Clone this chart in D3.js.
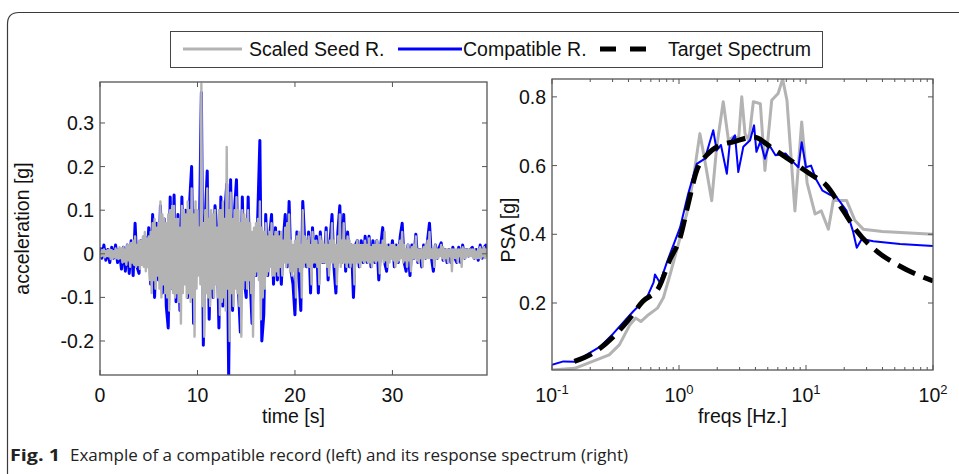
<!DOCTYPE html>
<html>
<head>
<meta charset="utf-8">
<script src="https://cdn.jsdelivr.net/npm/d3@7"></script>
<style>
  html, body { margin: 0; padding: 0; background: #fff; }
  svg { display: block; font-family: "Liberation Sans", Arial, sans-serif; }
</style>
</head>
<body>
<svg id="fig" width="959" height="474"></svg>
<script>
// ---- Acceleration records ----
// compatible record: one sample every 0.2 s from t = 0
const compatibleStep = 0.2;
const compatibleAccel = [
  0.015,-0.01,0.02,-0.015,0.01,  -0.02,0.015,-0.01,0.02,-0.02,
  0.01,-0.035,0.015,-0.04,0.02,  -0.045,0.03,-0.05,0.07,-0.03,
  -0.045,0.03,-0.02,0.04,-0.03,  0.06,-0.07,0.09,-0.1,0.07,
  -0.06,0.11,-0.09,0.08,-0.12,   -0.17,0.13,-0.08,0.135,-0.11,
  0.09,-0.13,0.13,-0.06,0.1,     -0.1,0.12,0.2,-0.16,0.1,
  -0.03,0.05,0.37,-0.21,0.08,    0.19,-0.15,0.06,-0.1,0.11,
  0.05,-0.17,0.13,-0.12,0.09,    0.16,-0.28,0.17,-0.13,0.1,
  0.17,-0.08,-0.18,0.13,-0.06,   -0.1,0.13,-0.06,-0.16,0.05,
  -0.05,0.1,0.26,-0.2,-0.14,     0.09,-0.05,0.04,0.09,-0.07,
  0.06,-0.06,0.05,-0.07,0.03,    0.09,-0.03,0.12,-0.04,-0.07,
  -0.14,0.05,-0.05,-0.13,0.12,   0.03,-0.03,0.05,-0.09,0.06,
  -0.03,0.04,-0.09,0.05,-0.02,   -0.02,0.06,-0.06,0.03,0.09,
  -0.03,-0.09,0.05,0.11,-0.02,   0.09,-0.04,0.05,-0.03,0.02,
  -0.1,0.02,0.03,-0.03,0.03,     -0.02,0.04,-0.02,0.04,-0.03,
  0.03,-0.02,0.03,-0.06,0.02,    0.06,-0.02,-0.04,0.02,-0.01,
  0.03,-0.03,0.02,-0.02,0.04,    0.07,-0.02,-0.04,0.02,-0.05,
  0.02,-0.01,0.045,-0.02,0.01,   -0.03,0.02,-0.01,0.03,0.07,
  -0.01,-0.04,0.02,-0.01,0.015,  0.025,-0.015,0.01,-0.02,0.01,
  -0.02,0.015,-0.01,-0.02,0.015, -0.02,0.02,-0.01,0.01,-0.005,
  0.01,0.015,-0.01,0.01,-0.015,  0.02,-0.01,0.015,0.02,-0.005
];
// scaled seed record: one sample every 0.1 s from t = 0 (one row per second)
const seedStep = 0.1;
const seedAccel = [
  0.005,-0.006,0.008,-0.004,0.01,-0.008,0.006,-0.005,0.008,-0.006,
  0.01,-0.012,0.008,-0.01,0.006,-0.008,0.012,-0.01,0.008,-0.012,
  0.015,-0.01,0.012,-0.02,0.015,-0.018,0.01,-0.025,0.02,-0.015,
  0.02,-0.03,0.025,-0.02,0.03,-0.025,0.04,-0.03,0.02,-0.025,
  0.03,-0.035,0.03,-0.025,0.04,-0.03,0.05,-0.04,0.035,-0.03,
  0.04,-0.06,0.05,-0.09,0.07,-0.06,0.08,-0.08,0.06,-0.05,
  0.07,-0.08,0.12,-0.1,0.09,-0.07,0.08,-0.09,0.07,-0.1,
  0.09,-0.13,0.1,-0.08,0.11,-0.09,0.11,-0.1,0.08,-0.09,
  0.08,-0.11,0.06,-0.16,0.11,-0.09,0.1,-0.07,0.09,-0.1,
  0.12,-0.09,0.1,-0.11,0.15,-0.1,0.09,-0.19,0.12,-0.08,
  0.1,-0.05,0.06,-0.07,0.39,-0.12,0.07,-0.19,0.1,-0.09,
  0.15,-0.1,0.08,-0.12,0.1,-0.08,0.09,-0.1,0.1,-0.07,
  0.06,-0.1,0.1,-0.14,0.1,-0.11,0.12,-0.1,0.08,-0.13,
  0.245,-0.08,0.1,-0.2,0.14,-0.09,0.08,-0.12,0.1,-0.08,
  0.13,-0.09,0.1,-0.12,0.07,-0.19,0.1,-0.08,0.09,-0.06,
  0.08,-0.08,0.1,-0.06,0.07,-0.09,0.05,-0.19,0.06,-0.05,
  0.07,-0.04,0.08,-0.06,0.12,-0.15,0.06,-0.1,0.05,-0.08,
  0.07,-0.05,0.04,-0.04,0.05,-0.03,0.07,-0.05,0.04,-0.05,
  0.05,-0.04,0.05,-0.05,0.04,-0.03,0.05,-0.05,0.03,-0.02,
  0.06,-0.03,0.07,-0.02,0.09,-0.04,0.03,-0.05,0.02,-0.04,
  0.03,-0.1,0.04,-0.03,0.05,-0.04,0.02,-0.1,0.1,-0.03,
  0.04,-0.02,0.03,-0.03,0.04,-0.03,0.02,-0.07,0.05,-0.02,
  0.03,-0.02,0.03,-0.03,0.02,-0.07,0.04,-0.02,0.03,-0.02,
  0.02,-0.02,0.05,-0.03,0.02,-0.05,0.03,-0.02,0.07,-0.02,
  0.03,-0.03,0.02,-0.07,0.04,-0.02,0.09,-0.03,0.03,-0.02,
  0.07,-0.02,0.03,-0.03,0.04,-0.02,0.03,-0.03,0.02,-0.02,
  0.02,-0.07,0.02,-0.02,0.03,-0.02,0.02,-0.03,0.02,-0.015,
  0.02,-0.02,0.03,-0.015,0.02,-0.02,0.035,-0.02,0.015,-0.03,
  0.02,-0.015,0.02,-0.02,0.03,-0.015,0.02,-0.045,0.02,-0.01,
  0.03,-0.02,0.05,-0.015,0.02,-0.03,0.015,-0.02,0.02,-0.01,
  0.02,-0.015,0.02,-0.03,0.015,-0.02,0.02,-0.015,0.03,-0.01,
  0.05,-0.02,0.02,-0.015,0.01,-0.03,0.02,-0.015,0.01,-0.04,
  0.015,-0.01,0.02,-0.01,0.04,-0.015,0.01,-0.02,0.01,-0.01,
  0.01,-0.03,0.015,-0.01,0.02,-0.01,0.03,-0.01,0.05,-0.01,
  0.01,-0.01,0.01,-0.03,0.02,-0.01,0.01,-0.01,0.01,-0.005,
  0.02,-0.01,0.015,-0.015,0.01,-0.01,0.01,-0.02,0.01,-0.005,
  0.01,-0.04,0.01,-0.01,0.01,-0.01,0.01,-0.02,0.01,-0.005,
  0.01,-0.03,0.015,-0.01,0.01,-0.01,0.01,-0.005,0.01,-0.005,
  0.01,-0.005,0.01,-0.01,0.01,-0.01,0.005,-0.01,0.01,-0.01,
  0.015,-0.01,0.01,-0.005,0.015,-0.01,0.01,-0.005,0.01,-0.005
];
const timeTicks = [0, 10, 20, 30];
const accelTicks = [-0.2, -0.1, 0, 0.1, 0.2, 0.3];

// ---- Pseudo-spectral acceleration vs frequency ----
const targetFreq = [0.15,0.21,0.3,0.39,0.52,0.69,0.85,1.02,1.18,1.38,1.65,2.1,2.68,3.85,5.5,7.9,10.7,14.5,19.7,25,36,55,100];
const targetPSA  = [0.03,0.054,0.10,0.146,0.205,0.244,0.327,0.39,0.488,0.586,0.63,0.659,0.669,0.683,0.649,0.61,0.576,0.542,0.468,0.41,0.351,0.307,0.264];

const compatibleFreq = [0.1,0.123,0.151,0.209,0.24,0.302,0.437,0.557,0.631,0.647,0.708,0.8,1.02,1.18,1.38,1.6,1.86,1.98,2.14,2.38,2.51,2.76,2.93,3.21,3.63,3.9,4.07,4.37,4.75,5.13,5.75,6.92,7.94,8.71,9.25,10,10.96,12.0,13.5,15.5,17.5,20.9,23.4,25.1,27.5,33.9,55,100];
const compatiblePSA  = [0.02,0.03,0.029,0.06,0.073,0.11,0.176,0.215,0.26,0.283,0.259,0.317,0.42,0.517,0.605,0.62,0.703,0.644,0.66,0.576,0.664,0.688,0.581,0.655,0.674,0.717,0.64,0.67,0.62,0.66,0.63,0.635,0.61,0.595,0.668,0.595,0.6,0.56,0.527,0.515,0.507,0.468,0.41,0.361,0.386,0.38,0.372,0.366];

const seedFreq = [0.1,0.151,0.209,0.282,0.339,0.411,0.457,0.501,0.575,0.676,0.753,0.851,1.02,1.15,1.29,1.46,1.58,1.81,1.98,2.23,2.45,2.69,2.95,3.12,3.31,3.55,3.85,4.37,4.75,5.37,6.03,6.55,7.08,8.18,9.25,10.2,11.8,13.2,15.0,16.4,20.9,24.3,28.2,39.8,100];
const seedPSA  = [0.005,0.01,0.03,0.049,0.078,0.137,0.156,0.146,0.166,0.185,0.215,0.283,0.39,0.459,0.557,0.693,0.625,0.498,0.654,0.786,0.674,0.684,0.68,0.80,0.693,0.674,0.786,0.78,0.586,0.79,0.81,0.852,0.79,0.468,0.727,0.55,0.459,0.468,0.415,0.498,0.498,0.44,0.415,0.408,0.40];

const freqTicks = [0.1, 1, 10, 100];
const freqExponents = ["-1", "0", "1", "2"];
const psaTicks = [0.2, 0.4, 0.6, 0.8];

const legendLabels = ["Scaled Seed R.", "Compatible R.", "Target Spectrum"];
const captionLead = "Fig. 1";
const captionText = "Example of a compatible record (left) and its response spectrum (right)";

// ---- Styling ----
const SEED = "#b3b3b3", COMPAT = "#0000ff", TARGET = "#000000";
const AXIS = "#555";
const svg = d3.select("#fig");

// Figure frame with rounded top-left corner
svg.append("path")
  .attr("d", "M7.5,474 V24 Q7.5,12.5 19,12.5 H959")
  .attr("fill", "none").attr("stroke", "#3a3a3a").attr("stroke-width", 1.2);

// Draws inward ticks on all four sides and a closed box
function frame(g, x, y, box, xt, yt, xMinor) {
  const tl = 5;
  const ticks = g.append("g").attr("stroke", AXIS).attr("stroke-width", 1);
  xt.forEach(v => {
    ticks.append("line").attr("x1", x(v)).attr("x2", x(v)).attr("y1", box.b).attr("y2", box.b - tl);
    ticks.append("line").attr("x1", x(v)).attr("x2", x(v)).attr("y1", box.t).attr("y2", box.t + tl);
  });
  (xMinor || []).forEach(v => {
    ticks.append("line").attr("x1", x(v)).attr("x2", x(v)).attr("y1", box.b).attr("y2", box.b - 3);
    ticks.append("line").attr("x1", x(v)).attr("x2", x(v)).attr("y1", box.t).attr("y2", box.t + 3);
  });
  yt.forEach(v => {
    ticks.append("line").attr("x1", box.l).attr("x2", box.l + tl).attr("y1", y(v)).attr("y2", y(v));
    ticks.append("line").attr("x1", box.r).attr("x2", box.r - tl).attr("y1", y(v)).attr("y2", y(v));
  });
  g.append("rect").attr("x", box.l).attr("y", box.t)
    .attr("width", box.r - box.l).attr("height", box.b - box.t)
    .attr("fill", "none").attr("stroke", AXIS).attr("stroke-width", 1.3);
}

// ================= Left: acceleration time history =================
const L = { l: 100, r: 487, t: 82, b: 375 };
const xT = d3.scaleLinear().domain([0, 39.7]).range([L.l, L.r]);
const yA = d3.scaleLinear().domain([-0.278, 0.394]).range([L.b, L.t]);

svg.append("clipPath").attr("id", "clipL")
  .append("rect").attr("x", L.l).attr("y", L.t).attr("width", L.r - L.l).attr("height", L.b - L.t);

const accLine = step => d3.line().x((d, i) => xT(i * step)).y(d => yA(d));
const gL = svg.append("g");
const plotL = gL.append("g").attr("clip-path", "url(#clipL)");
plotL.append("path").datum(compatibleAccel).attr("d", accLine(compatibleStep))
  .attr("fill", "none").attr("stroke", COMPAT).attr("stroke-width", 3).attr("stroke-linejoin", "round");
plotL.append("path").datum(seedAccel).attr("d", accLine(seedStep))
  .attr("fill", "none").attr("stroke", SEED).attr("stroke-width", 2.4).attr("stroke-linejoin", "round");

frame(gL, xT, yA, L, timeTicks, accelTicks);

gL.selectAll("text.xt").data(timeTicks).join("text")
  .attr("x", d => xT(d)).attr("y", 402).attr("text-anchor", "middle")
  .attr("font-size", 19.5).attr("fill", "#111").text(d => d);
gL.selectAll("text.yt").data(accelTicks).join("text")
  .attr("x", L.l - 6).attr("y", d => yA(d) + 7).attr("text-anchor", "end")
  .attr("font-size", 19.5).attr("fill", "#111").text(d => String(d));
gL.append("text").attr("x", (L.l + L.r) / 2).attr("y", 423).attr("text-anchor", "middle")
  .attr("font-size", 19.5).attr("fill", "#111").text("time [s]");
gL.append("text").attr("transform", `translate(29,${(L.t + L.b) / 2}) rotate(-90)`)
  .attr("text-anchor", "middle").attr("font-size", 19.5).attr("fill", "#111").text("acceleration [g]");

// ================= Right: response spectrum =================
const R = { l: 552, r: 933, t: 79, b: 370 };
const xF = d3.scaleLog().domain([0.1, 100]).range([R.l, R.r]);
const yP = d3.scaleLinear().domain([0.005, 0.852]).range([R.b, R.t]);

svg.append("clipPath").attr("id", "clipR")
  .append("rect").attr("x", R.l).attr("y", R.t).attr("width", R.r - R.l).attr("height", R.b - R.t);

const gR = svg.append("g");
const plotR = gR.append("g").attr("clip-path", "url(#clipR)");
const specLine = d3.line().x(d => xF(d[0])).y(d => yP(d[1]));
plotR.append("path").datum(d3.zip(seedFreq, seedPSA)).attr("d", specLine)
  .attr("fill", "none").attr("stroke", SEED).attr("stroke-width", 3).attr("stroke-linejoin", "round");
plotR.append("path").datum(d3.zip(compatibleFreq, compatiblePSA)).attr("d", specLine)
  .attr("fill", "none").attr("stroke", COMPAT).attr("stroke-width", 2).attr("stroke-linejoin", "round");
plotR.append("path").datum(d3.zip(targetFreq, targetPSA))
  .attr("d", specLine.curve(d3.curveMonotoneX))
  .attr("fill", "none").attr("stroke", TARGET).attr("stroke-width", 5)
  .attr("stroke-dasharray", "19,9");

const minorF = xF.ticks().filter(v => !freqTicks.includes(v));
frame(gR, xF, yP, R, freqTicks, psaTicks, minorF);

const fl = gR.selectAll("text.xf").data(freqTicks).join("text")
  .attr("x", d => xF(d)).attr("y", 402).attr("text-anchor", "middle")
  .attr("font-size", 19.5).attr("fill", "#111");
fl.append("tspan").text("10");
fl.append("tspan").attr("dy", -8).attr("font-size", 13).text((d, i) => freqExponents[i]);

gR.selectAll("text.yp").data(psaTicks).join("text")
  .attr("x", R.l - 6).attr("y", d => yP(d) + 7).attr("text-anchor", "end")
  .attr("font-size", 19.5).attr("fill", "#111").text(d => d3.format(".1f")(d));
gR.append("text").attr("x", (R.l + R.r) / 2).attr("y", 423).attr("text-anchor", "middle")
  .attr("font-size", 19.5).attr("fill", "#111").text("freqs [Hz.]");
gR.append("text").attr("transform", `translate(515,230) rotate(-90)`)
  .attr("text-anchor", "middle").attr("font-size", 19.5).attr("fill", "#111").text("PSA [g]");

// ================= Legend =================
const lg = svg.append("g");
lg.append("rect").attr("x", 170.5).attr("y", 31.5).attr("width", 652).attr("height", 36)
  .attr("fill", "#fff").attr("stroke", "#444").attr("stroke-width", 1);
const legendItems = [
  { x0: 183, x1: 242, tx: 249, color: SEED, w: 3, dash: null },
  { x0: 398, x1: 462, tx: 463, color: COMPAT, w: 3, dash: null },
  { x0: 600, x1: 648, tx: 668, color: TARGET, w: 5, dash: "16,14" }
];
legendItems.forEach((it, i) => {
  lg.append("line").attr("x1", it.x0).attr("x2", it.x1).attr("y1", 49).attr("y2", 49)
    .attr("stroke", it.color).attr("stroke-width", it.w).attr("stroke-dasharray", it.dash);
  lg.append("text").attr("x", it.tx).attr("y", 56).attr("font-size", 19.5).attr("fill", "#111")
    .text(legendLabels[i]);
});

// ================= Caption =================
const cap = svg.append("g").attr("font-family", "'Open Sans', 'Noto Sans', sans-serif").attr("fill", "#222");
cap.append("text").attr("x", 10).attr("y", 461).attr("font-size", 16).attr("font-weight", 700)
  .attr("textLength", 50).attr("lengthAdjust", "spacingAndGlyphs").text(captionLead);
cap.append("text").attr("x", 70).attr("y", 461).attr("font-size", 16)
  .attr("textLength", 558).attr("lengthAdjust", "spacingAndGlyphs").text(captionText);
</script>
</body>
</html>
